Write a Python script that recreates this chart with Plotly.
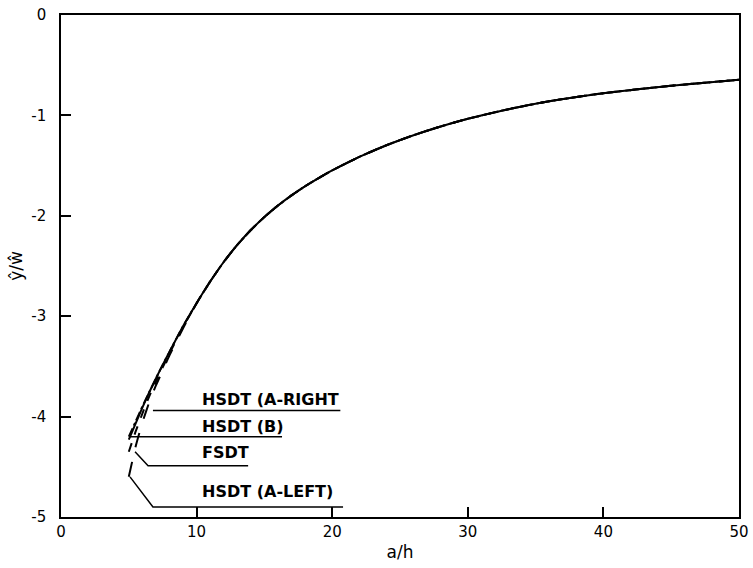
import plotly.graph_objects as go

# ---- data ----
a_h = [5, 5.5, 6, 6.5, 7, 7.5, 8, 9, 10, 11, 12, 13, 14, 15, 16, 17, 18, 19, 20,
       22, 24, 26, 28, 30, 33, 36, 40, 45, 50]
common_tail = [-2.87, -2.655, -2.46, -2.29, -2.142, -2.012, -1.898, -1.797, -1.706, -1.624,
               -1.548, -1.413, -1.297, -1.197, -1.11, -1.034, -0.938, -0.859, -0.779, -0.705,
               -0.645]
hsdt_a_right = [-4.23, -4.07, -3.91, -3.76, -3.62, -3.485, -3.355, -3.10] + common_tail
hsdt_b = [-4.20, -4.05, -3.90, -3.76, -3.62, -3.485, -3.355, -3.10] + common_tail
fsdt = [-4.35, -4.15, -3.97, -3.80, -3.65, -3.51, -3.37, -3.11] + common_tail
hsdt_a_left = [-4.60, -4.30, -4.06, -3.86, -3.69, -3.54, -3.39, -3.12] + common_tail

labels = ["HSDT (A-RIGHT", "HSDT (B)", "FSDT", "HSDT (A-LEFT)"]
label_x = [10.25, 10.25, 10.25, 10.25]
label_y = [-3.83, -4.10, -4.36, -4.75]

# leader lines (a/h, value) for each label
leader_a_right_x = [6.78, 20.6]
leader_a_right_y = [-3.94, -3.94]
leader_b_x = [5.09, 16.3]
leader_b_y = [-4.20, -4.20]
leader_fsdt_x = [5.46, 6.42, 13.8]
leader_fsdt_y = [-4.35, -4.49, -4.49]
leader_a_left_x = [5.09, 6.78, 20.8]
leader_a_left_y = [-4.60, -4.90, -4.90]

x_ticks = [0, 10, 20, 30, 40, 50]
x_tick_text = ["0", "10", "20", "30", "40", "50"]
y_ticks = [0, -1, -2, -3, -4, -5]
y_tick_text = ["0", "-1", "-2", "-3", "-4", "-5"]

fig = go.Figure()

curves = [
    (hsdt_a_right, "solid"),
    (hsdt_b, "dashdot"),
    (fsdt, "dash"),
    (hsdt_a_left, "longdash"),
]
for ys, dash in curves:
    fig.add_trace(go.Scatter(x=a_h, y=ys, mode="lines",
                             line=dict(color="black", width=2, dash=dash, shape="spline",
                                       smoothing=0.5),
                             showlegend=False, hoverinfo="skip"))

for lx, ly in [(leader_a_right_x, leader_a_right_y), (leader_b_x, leader_b_y),
               (leader_fsdt_x, leader_fsdt_y), (leader_a_left_x, leader_a_left_y)]:
    fig.add_trace(go.Scatter(x=lx, y=ly, mode="lines",
                             line=dict(color="black", width=1.5),
                             showlegend=False, hoverinfo="skip"))

for t, xx, yy in zip(labels, label_x, label_y):
    fig.add_annotation(x=xx, y=yy, text="<b>" + t + "</b>", showarrow=False,
                       xanchor="left", yanchor="middle",
                       font=dict(family="DejaVu Sans", size=16, color="black"))

axis_common = dict(showgrid=False, zeroline=False, showline=True, linecolor="black",
                   linewidth=1.5, mirror=True, ticks="inside", ticklen=10,
                   tickwidth=1.5, tickcolor="black", automargin=False,
                   tickfont=dict(family="DejaVu Sans", size=15, color="black"))

fig.update_xaxes(range=[0, 50], tickvals=x_ticks, ticktext=x_tick_text,
                 title=dict(text="a/h", font=dict(family="DejaVu Sans", size=17, color="black"),
                            standoff=6),
                 **axis_common)
fig.update_yaxes(range=[-5, 0], tickvals=y_ticks, ticktext=y_tick_text,
                 ticklabelstandoff=10,
                 title=dict(text="ŷ/ŵ", font=dict(family="DejaVu Sans", size=17, color="black"),
                            standoff=4),
                 **axis_common)

fig.update_layout(width=753, height=568,
                  margin=dict(l=61, r=14, t=15, b=51),
                  plot_bgcolor="white", paper_bgcolor="white")

fig.write_html("out.html", config={"displayModeBar": False},
               post_script="document.body.style.margin='0';document.body.style.overflow='hidden';")
